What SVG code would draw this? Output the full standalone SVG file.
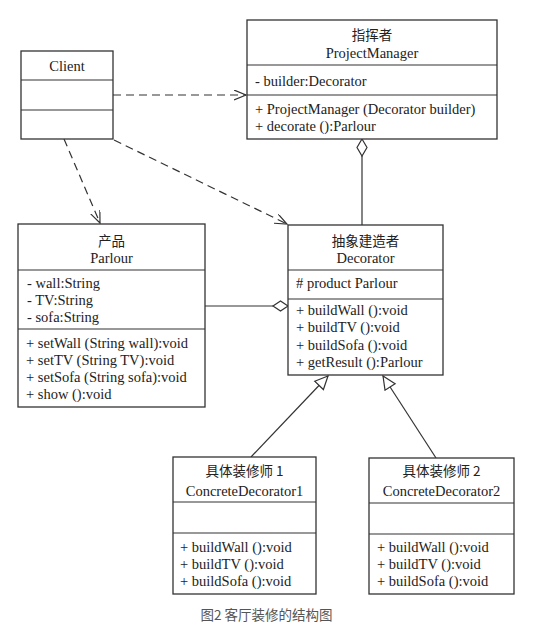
<svg xmlns="http://www.w3.org/2000/svg" width="559" height="641" viewBox="0 0 559 641">
<defs>
<style>
.box{fill:#fff;stroke:#333;stroke-width:1.3}
.div{stroke:#333;stroke-width:1.2}
text{font-family:"Liberation Serif","Noto Sans CJK SC",serif;font-size:14.5px;fill:#222}
.cn{font-family:"Noto Sans CJK SC",sans-serif;font-size:13.5px}
.c{text-anchor:middle}
.ln{fill:none;stroke:#333;stroke-width:1.2}
.dash{stroke-dasharray:8 5}
.cap{font-family:"Noto Sans CJK SC",sans-serif;font-size:13.5px;fill:#555}
</style>
<marker id="open" markerUnits="userSpaceOnUse" markerWidth="14" markerHeight="12" refX="12" refY="5" orient="auto">
<path d="M0,0 L12,5 L0,10" fill="none" stroke="#333" stroke-width="1.2"/>
</marker>
<marker id="tri" markerUnits="userSpaceOnUse" markerWidth="16" markerHeight="16" refX="14" refY="7" orient="auto">
<path d="M1,1 L14,7 L1,13 Z" fill="#fff" stroke="#333" stroke-width="1.2"/>
</marker>
</defs>
<rect width="559" height="641" fill="#fff"/>

<g id="connectors">
<line class="ln dash" x1="113" y1="95" x2="246" y2="95" marker-end="url(#open)"/>
<line class="ln dash" x1="64" y1="139" x2="100" y2="223" marker-end="url(#open)"/>
<line class="ln dash" x1="114" y1="140" x2="287" y2="224" marker-end="url(#open)"/>
<line class="ln" x1="362" y1="156" x2="362" y2="225"/>
<path class="ln" d="M362,139 L367,147.5 L362,156 L357,147.5 Z" fill="#fff"/>
<line class="ln" x1="205" y1="306" x2="273" y2="306"/>
<path class="ln" d="M288,306 L280.5,301 L273,306 L280.5,311 Z" fill="#fff"/>
<line class="ln" x1="251" y1="457" x2="328" y2="376" marker-end="url(#tri)"/>
<line class="ln" x1="436" y1="458" x2="383" y2="376" marker-end="url(#tri)"/>
</g>

<g id="client">
<rect class="box" x="21" y="51" width="92" height="88"/>
<line class="div" x1="21" y1="80" x2="113" y2="80"/>
<line class="div" x1="21" y1="110" x2="113" y2="110"/>
<text class="c" x="67" y="71">Client</text>
</g>

<g id="projectmanager">
<rect class="box" x="247" y="20" width="250" height="119"/>
<line class="div" x1="247" y1="65" x2="497" y2="65"/>
<line class="div" x1="247" y1="95" x2="497" y2="95"/>
<text class="c cn" x="372" y="39.5">指挥者</text>
<text class="c" x="372" y="58">ProjectManager</text>
<text x="255" y="86">- builder:Decorator</text>
<text x="255" y="114">+ ProjectManager (Decorator builder)</text>
<text x="255" y="131">+ decorate ():Parlour</text>
</g>

<g id="parlour">
<rect class="box" x="18" y="224" width="187" height="183"/>
<line class="div" x1="18" y1="270" x2="205" y2="270"/>
<line class="div" x1="18" y1="329" x2="205" y2="329"/>
<text class="c cn" x="111.5" y="245.5">产品</text>
<text class="c" x="111.5" y="263">Parlour</text>
<text x="27" y="288">- wall:String</text>
<text x="27" y="305">- TV:String</text>
<text x="27" y="322">- sofa:String</text>
<text x="26" y="348">+ setWall (String wall):void</text>
<text x="26" y="365">+ setTV (String TV):void</text>
<text x="26" y="382">+ setSofa (String sofa):void</text>
<text x="26" y="399">+ show ():void</text>
</g>

<g id="decorator">
<rect class="box" x="288" y="225" width="155" height="150"/>
<line class="div" x1="288" y1="270" x2="443" y2="270"/>
<line class="div" x1="288" y1="299" x2="443" y2="299"/>
<text class="c cn" x="365.5" y="245.5">抽象建造者</text>
<text class="c" x="365.5" y="263">Decorator</text>
<text x="296" y="288"># product Parlour</text>
<text x="296" y="315">+ buildWall ():void</text>
<text x="296" y="332">+ buildTV ():void</text>
<text x="296" y="350">+ buildSofa ():void</text>
<text x="296" y="367">+ getResult ():Parlour</text>
</g>

<g id="concretedecorator1">
<rect class="box" x="173" y="457" width="143" height="137"/>
<line class="div" x1="173" y1="502" x2="316" y2="502"/>
<line class="div" x1="173" y1="533" x2="316" y2="533"/>
<text class="c cn" x="244.5" y="476">具体装修师 1</text>
<text class="c" x="244.5" y="495.5">ConcreteDecorator1</text>
<text x="180" y="552">+ buildWall ():void</text>
<text x="180" y="569">+ buildTV ():void</text>
<text x="180" y="586">+ buildSofa ():void</text>
</g>

<g id="concretedecorator2">
<rect class="box" x="369" y="458" width="145" height="136"/>
<line class="div" x1="369" y1="503" x2="514" y2="503"/>
<line class="div" x1="369" y1="534" x2="514" y2="534"/>
<text class="c cn" x="441.5" y="476">具体装修师 2</text>
<text class="c" x="441.5" y="495.5">ConcreteDecorator2</text>
<text x="377" y="552">+ buildWall ():void</text>
<text x="377" y="569">+ buildTV ():void</text>
<text x="377" y="586">+ buildSofa ():void</text>
</g>

<text class="cap c" x="266.5" y="620">图2 客厅装修的结构图</text>
</svg>
